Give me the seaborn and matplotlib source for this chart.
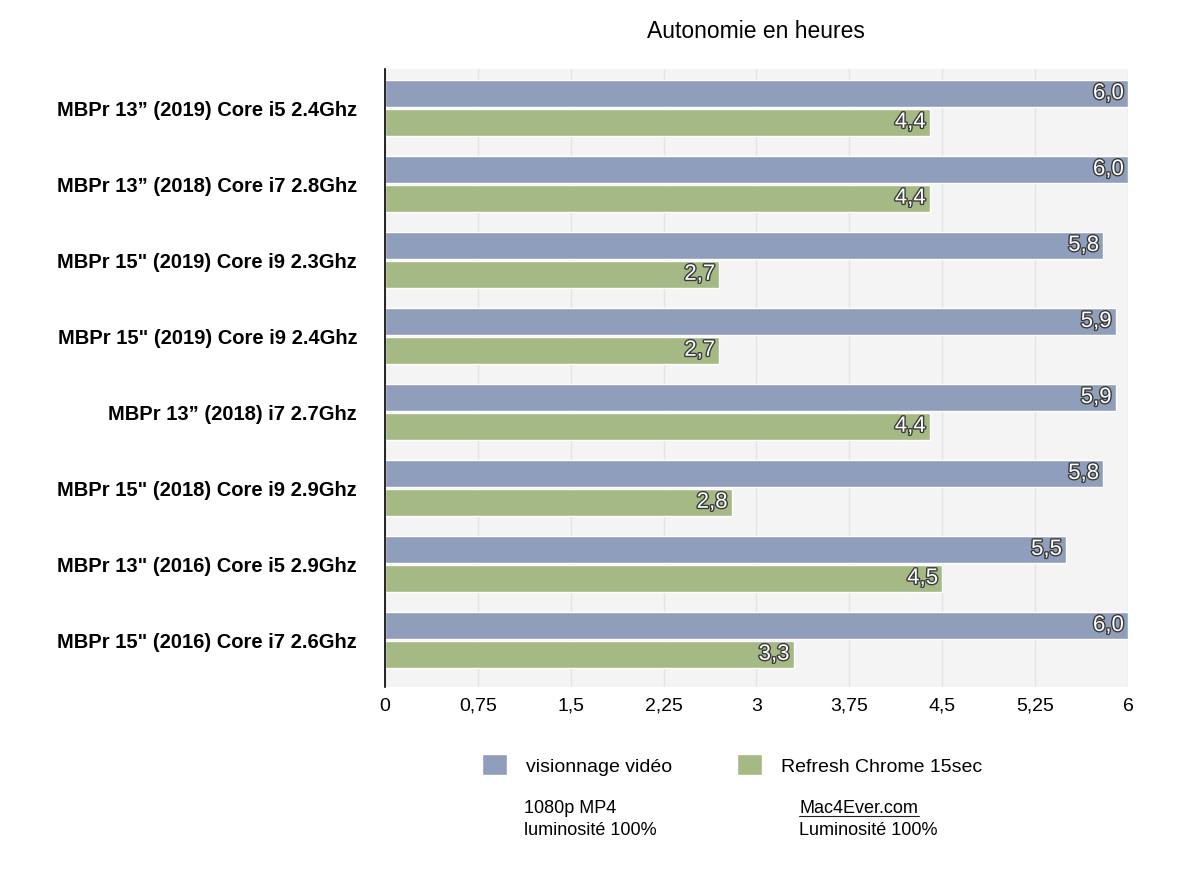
import pandas as pd
import matplotlib.pyplot as plt
import matplotlib.patheffects as pe
from matplotlib.patches import Patch
from matplotlib.ticker import FuncFormatter
import seaborn as sns

# Data
models = [
    'MBPr 13” (2019) Core i5 2.4Ghz',
    'MBPr 13” (2018) Core i7 2.8Ghz',
    'MBPr 15" (2019) Core i9 2.3Ghz',
    'MBPr 15" (2019) Core i9 2.4Ghz',
    'MBPr 13” (2018) i7 2.7Ghz',
    'MBPr 15" (2018) Core i9 2.9Ghz',
    'MBPr 13" (2016) Core i5 2.9Ghz',
    'MBPr 15" (2016) Core i7 2.6Ghz',
]
video = [6.0, 6.0, 5.8, 5.9, 5.9, 5.8, 5.5, 6.0]
chrome = [4.4, 4.4, 2.7, 2.7, 4.4, 2.8, 4.5, 3.3]
series = ['visionnage vidéo', 'Refresh Chrome 15sec']
colors = ['#8f9fbb', '#a4b984']
xticks = [0, 0.75, 1.5, 2.25, 3, 3.75, 4.5, 5.25, 6]

df = pd.DataFrame({'model': models * 2,
                   'heures': video + chrome,
                   'test': [series[0]] * len(models) + [series[1]] * len(models)})

sns.set_style("white")
plt.rcParams['font.family'] = ['Liberation Sans', 'DejaVu Sans']
plt.rcParams['text.color'] = 'black'
plt.rcParams['xtick.color'] = 'black'
plt.rcParams['ytick.color'] = 'black'

fig = plt.figure(figsize=(12, 8.87), dpi=100)
ax = fig.add_axes([0.3208, 0.2244, 0.6192, 0.6966])
ax.set_facecolor('#f4f4f4')

sns.barplot(data=df, y='model', x='heures', hue='test', order=models,
            hue_order=series, palette=colors, width=0.76, gap=0.05,
            saturation=1, legend=False, ax=ax)

# value labels inside the bar ends
for cont in ax.containers:
    ax.bar_label(cont, labels=[f'{v:.1f}'.replace('.', ',') for v in cont.datavalues],
                 padding=-3, label_type='edge', color='white', fontsize=16,
                 path_effects=[pe.withStroke(linewidth=2, foreground='#3a3a3a')])
for t in ax.texts:
    t.set_horizontalalignment('right')

ax.set_xlim(0, 6)
ax.set_ylim(7.62, -0.51)
ax.set_xticks(xticks)
ax.xaxis.set_major_formatter(FuncFormatter(lambda v, p: f'{v:g}'.replace('.', ',')))
ax.grid(axis='x', color='#e4e4e4', linewidth=1)
ax.set_axisbelow(True)
for s in ['top', 'right', 'bottom']:
    ax.spines[s].set_visible(False)
ax.spines['left'].set_color('black')
ax.spines['left'].set_linewidth(1.2)
ax.tick_params(axis='x', length=0, pad=7, labelsize=14)
ax.tick_params(axis='y', length=0, pad=20, labelsize=14.5)
for lbl in ax.get_yticklabels():
    lbl.set_fontweight('semibold')
ax.set_xlabel('')
ax.set_ylabel('')

fig.text(0.6302, 0.965, 'Autonomie en heures', ha='center', va='center', fontsize=16.5)

handles = [Patch(facecolor=c, label=s) for c, s in zip(colors, series)]
fig.legend(handles=handles, loc='center', bbox_to_anchor=(0.61, 0.137), ncol=2,
           frameon=False, fontsize=14, handlelength=1.3, handleheight=1.3,
           columnspacing=3.3, handletextpad=1.0)

# small notes under the legend
fig.text(0.437, 0.098, '1080p MP4', ha='left', va='top', fontsize=13)
fig.text(0.437, 0.073, 'luminosité 100%', ha='left', va='top', fontsize=13)
fig.text(0.666, 0.098, 'Mac4Ever.com', ha='left', va='top', fontsize=13)
fig.text(0.666, 0.073, 'Luminosité 100%', ha='left', va='top', fontsize=13)
fig.add_artist(plt.Line2D([0.666, 0.766], [0.0785, 0.0785], color='#222222', linewidth=0.8))

fig.savefig('out.png', dpi=100)
